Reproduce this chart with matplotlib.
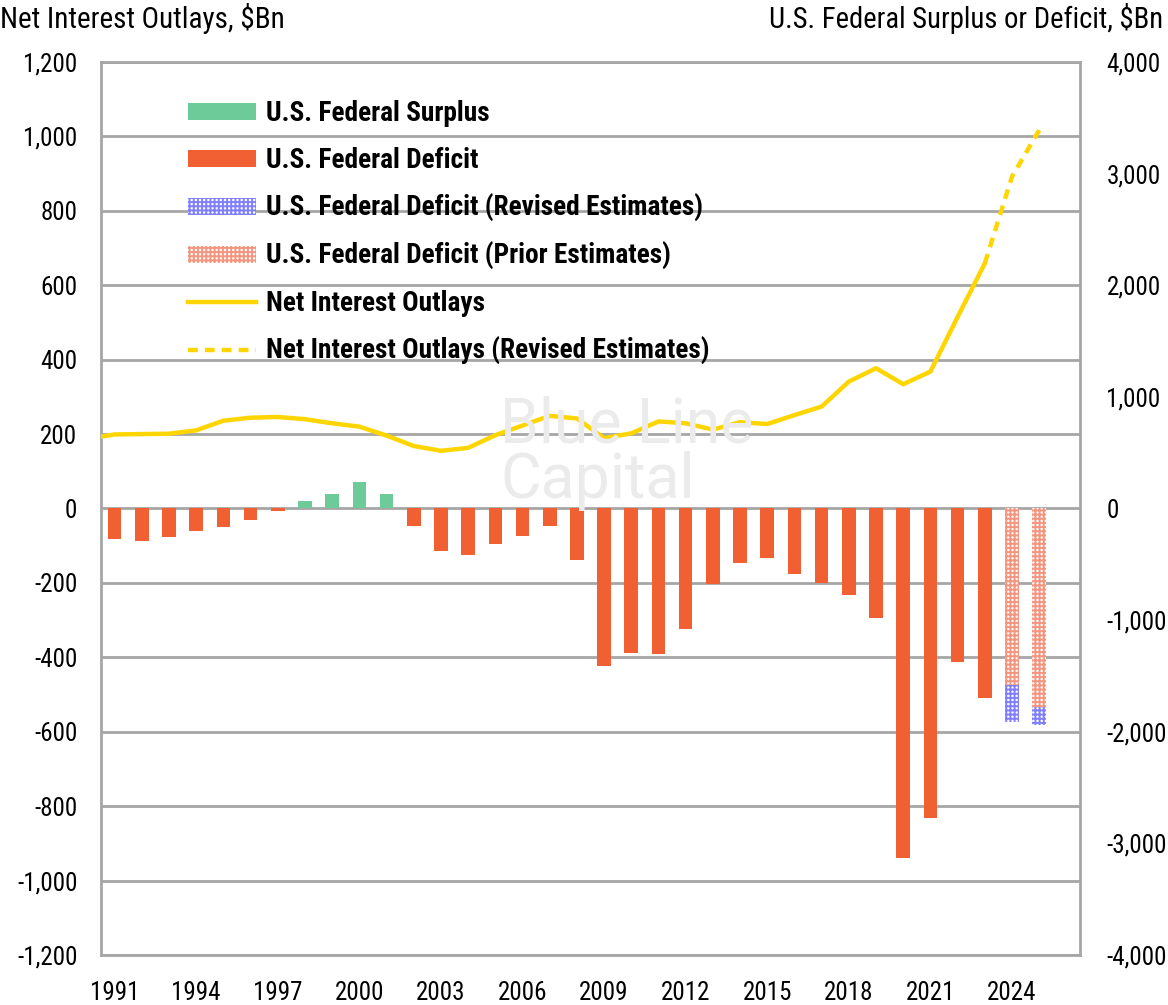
import matplotlib
matplotlib.use("Agg")
import matplotlib.pyplot as plt
from matplotlib import font_manager as fm
from matplotlib.patches import Patch
from matplotlib.lines import Line2D
import numpy as np

_avail = {f.name for f in fm.fontManager.ttflist}
_pref = ['Arial Narrow', 'Liberation Sans Narrow', 'Roboto Condensed',
         'Archivo Narrow', 'PT Sans Narrow']
FONT = [f for f in _pref if f in _avail] + ['DejaVu Sans']
plt.rcParams['font.family'] = FONT

# ---------------- data ----------------
years = list(range(1991, 2026))                 # category axis 1991..2025
balance_years = list(range(1991, 2024))
balance = [-269, -290, -255, -203, -164, -107, -22, 69, 126, 236, 128, -158,
           -378, -413, -318, -248, -161, -459, -1413, -1294, -1300, -1077, -680,
           -485, -442, -585, -665, -779, -984, -3132, -2775, -1375, -1695]
est_years = [2024, 2025]
deficit_prior = [-1582, -1776]
deficit_revised = [-1916, -1940]

interest_years = list(range(1990, 2024))
interest = [187, 199, 200, 201, 210, 236, 244, 246, 240, 229, 220, 196, 168,
            155, 163, 197, 223, 249, 242, 189, 202, 234, 229, 212, 232, 227,
            251, 274, 341, 377, 334, 368, 515, 659]
interest_est_years = [2023, 2024, 2025]
interest_est = [659, 892, 1017]

tick_years = list(range(1991, 2025, 3))
left_ticks = list(range(-1200, 1201, 200))
right_ticks = list(range(-4000, 4001, 1000))

# ---------------- style ----------------
C_SURPLUS = '#6DCB9A'
C_DEFICIT = '#F06033'
C_PRIOR = '#F4967F'
C_REVISED = '#8080FF'
C_LINE = '#FFD500'
C_GRID = '#A6A6A6'
FS = 18

plt.rcParams['hatch.linewidth'] = 1.4

def xpos(y):
    return y - years[0]

fig = plt.figure(figsize=(11.68, 10.05), dpi=100)
ax = fig.add_axes([101/1168, 50/1005, 979/1168, 893/1005])
ax_bar = ax.twinx()
ax_line = ax.twinx()

# grid axis (left scale)
ax.set_ylim(-1200, 1200)
ax.set_xlim(-0.5, len(years) + 0.5)
ax.set_yticks(left_ticks)
ax.set_yticklabels([f"{v:,}" for v in left_ticks], fontsize=FS)
ax.yaxis.grid(True, color=C_GRID, linewidth=2)
ax.set_xticks([xpos(y) for y in tick_years])
ax.set_xticklabels([str(y) for y in tick_years], fontsize=FS)
ax.tick_params(axis='y', length=0, pad=17)
ax.tick_params(axis='x', length=0, pad=19)
for s in ax.spines.values():
    s.set_color(C_GRID)
    s.set_linewidth(2)

# bars (right scale)
ax_bar.set_ylim(-4000, 4000)
ax_bar.set_yticks(right_ticks)
ax_bar.set_yticklabels([f"{v:,}" for v in right_ticks], fontsize=FS)
ax_bar.tick_params(axis='y', length=0, pad=19)
for s in ax_bar.spines.values():
    s.set_visible(False)

bx = [xpos(y) for y in balance_years]
colors = [C_SURPLUS if v > 0 else C_DEFICIT for v in balance]
ax_bar.bar(bx, balance, width=0.5, color=colors, edgecolor='none', zorder=3)

ex = [xpos(y) for y in est_years]
ax_bar.bar(ex, deficit_prior, width=0.5, facecolor='white', edgecolor=C_PRIOR,
           hatch='++++', linewidth=0, zorder=3)
ax_bar.bar(ex, [r - p for r, p in zip(deficit_revised, deficit_prior)],
           bottom=deficit_prior, width=0.5, facecolor='white', edgecolor=C_REVISED,
           hatch='++++', linewidth=0, zorder=3)

# line (left scale)
ax_line.set_ylim(-1200, 1200)
ax_line.set_xlim(ax.get_xlim())
ax_line.set_yticks([])
for s in ax_line.spines.values():
    s.set_visible(False)
ax_line.plot([xpos(y) for y in interest_years], interest, color=C_LINE, lw=3.2,
             solid_joinstyle='round', zorder=4)
ax_line.plot([xpos(y) for y in interest_est_years], interest_est, color=C_LINE,
             lw=3.2, ls=(0, (2.2, 1.6)), zorder=4)

# watermark
fig.text(0.428, 0.549, "Blue Line\nCapital", fontsize=45, color='#EBEBEB',
         family=['Roboto', 'DejaVu Sans'], ha='left', va='center',
         linespacing=0.92, zorder=0)
for i, yy in enumerate(np.linspace(0.598, 0.505, 12)):
    w = 0.082 if 1 < i < 10 else 0.065
    x0 = 0.318 if i % 2 == 0 else 0.335
    fig.add_artist(Line2D([x0, 0.318 + w], [yy, yy], color='#EEEEFB', lw=2.5,
                          transform=fig.transFigure, zorder=0))

# legend
handles = [
    Patch(facecolor=C_SURPLUS, edgecolor='none'),
    Patch(facecolor=C_DEFICIT, edgecolor='none'),
    Patch(facecolor='white', edgecolor=C_REVISED, hatch='++++', linewidth=0),
    Patch(facecolor='white', edgecolor=C_PRIOR, hatch='++++', linewidth=0),
    Line2D([], [], color=C_LINE, lw=3.2),
    Line2D([], [], color=C_LINE, lw=3.2, ls=(0, (2.2, 1.6))),
]
labels = ["U.S. Federal Surplus", "U.S. Federal Deficit",
          "U.S. Federal Deficit (Revised Estimates)",
          "U.S. Federal Deficit (Prior Estimates)",
          "Net Interest Outlays", "Net Interest Outlays (Revised Estimates)"]
leg = ax_line.legend(handles, labels, loc='upper left',
                     bbox_to_anchor=(87/979, 1 - 38/893), frameon=False,
                     prop={'weight': 'bold', 'size': 19.7}, handlelength=2.5,
                     handleheight=0.6, handletextpad=0.35, labelspacing=0.73,
                     borderaxespad=0, borderpad=0)

fig.text(0.0, 1 - 18/1005, "Net Interest Outlays, $Bn", fontsize=21,
         ha='left', va='center')
fig.text(1 - 5/1168, 1 - 18/1005, "U.S. Federal Surplus or Deficit, $Bn",
         fontsize=20.6, ha='right', va='center')

fig.savefig("out.png", dpi=100)
